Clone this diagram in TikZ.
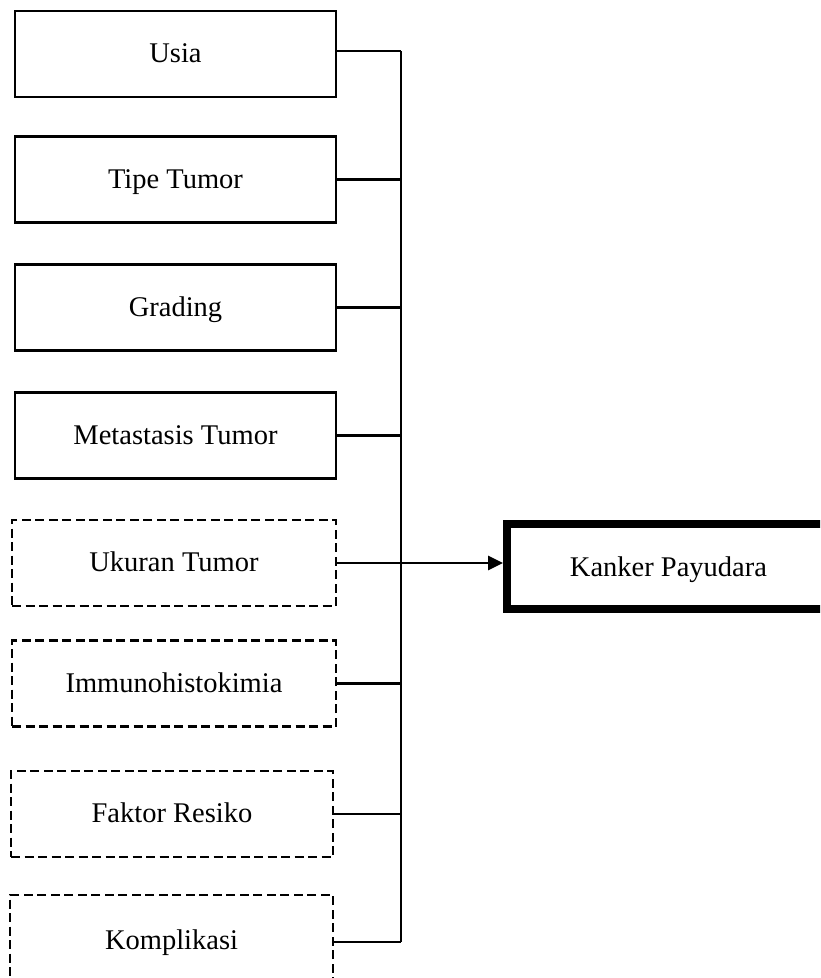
\documentclass[tikz,border=0pt]{standalone}
\usepackage{fontspec}
\setmainfont{Liberation Serif}
\usetikzlibrary{arrows.meta}
\begin{document}
\begin{tikzpicture}[x=1pt,y=-1pt,
  solidbox/.style={draw, line width=2.8pt, minimum width=321pt, minimum height=86pt, inner sep=0pt, text height=20pt, text depth=3pt, font=\fontsize{28.5}{34}\selectfont},
  dashbox/.style={solidbox, dash pattern=on 9pt off 4.5pt},
  mainbox/.style={draw, line width=8pt, minimum width=323pt, minimum height=85pt, inner sep=0pt, text height=20pt, text depth=0pt, font=\fontsize{28.5}{34}\selectfont},
  link/.style={line width=2.7pt},
  tip/.style={line width=2.7pt, -{Triangle[length=15pt,width=14pt]}}]
\useasboundingbox (0,0) rectangle (820,978);
\clip (0,0) rectangle (820,978);
\fill[white] (0,0) rectangle (820,978);
\node[solidbox] (usia) at (175.5,54) {Usia};
\node[solidbox] (tipe) at (175.5,179.5) {Tipe Tumor};
\node[solidbox] (grading) at (175.5,307.5) {Grading};
\node[solidbox] (meta) at (175.5,435.5) {Metastasis Tumor};
\node[dashbox, minimum width=324pt] (ukuran) at (174,563) {Ukuran Tumor};
\node[dashbox, minimum width=324pt] (immuno) at (174,683.5) {Immunohistokimia};
\node[dashbox, minimum width=322pt] (faktor) at (172,814) {Faktor Resiko};
\node[dashbox, minimum width=323pt, minimum height=92pt] (kompl) at (171.5,941) {Komplikasi};
\node[mainbox] (kanker) at (668.5,566.5) {Kanker Payudara};
\coordinate (bustop) at (401,51);
\coordinate (busbot) at (401,942);
\draw[link] (bustop) -- (busbot);
\draw[link] (usia.east |- bustop) -- (bustop);
\draw[link] (tipe.east) -- (tipe.east -| bustop);
\draw[link] (grading.east) -- (grading.east -| bustop);
\draw[link] (meta.east) -- (meta.east -| bustop);
\draw[link] (immuno.east) -- (immuno.east -| bustop);
\draw[link] (faktor.east) -- (faktor.east -| bustop);
\draw[link] (kompl.east |- busbot) -- (busbot);
\draw[tip] (ukuran.east) -- (ukuran.east -| kanker.west);
\end{tikzpicture}
\end{document}
